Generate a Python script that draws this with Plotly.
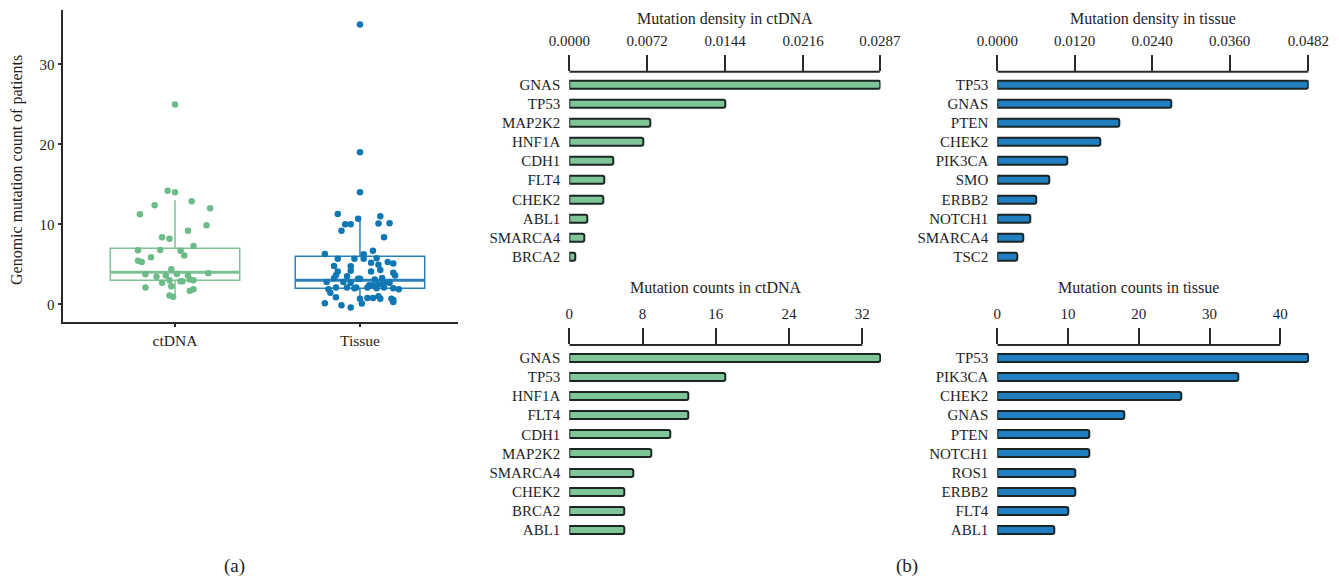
import plotly.graph_objects as go

W, H = 1339, 579

# ---- (a) per-patient mutation counts ----
box_groups = ["ctDNA", "Tissue"]
ctdna_counts = [14.2, 14.0, 12.4, 12.9, 11.25, 12.0, 9.9, 9.2, 8.4, 8.2, 7.3, 6.75, 6.8,
                6.7, 6.1, 5.9, 5.45, 5.3, 4.4, 3.9, 3.75, 3.45, 3.6, 3.6, 2.7, 3.0, 2.9,
                2.9, 3.1, 3.0, 2.1, 2.25, 1.7, 1.9, 1.1, 0.95, 25.0, 3.8]
ctdna_jitter = [-0.04, 0.0, -0.11, 0.09, -0.19, 0.19, 0.17, 0.07, -0.07, -0.03, 0.10, -0.20,
                -0.08, 0.03, 0.05, -0.13, -0.20, -0.18, -0.02, 0.18, -0.16, -0.10, -0.05,
                0.07, -0.07, -0.03, 0.03, 0.04, 0.08, 0.10, -0.16, -0.02, 0.08, 0.10,
                -0.03, -0.01, 0.0, 0.01]
tissue_counts = [11.3, 10.0, 10.0, 9.2, 10.7, 11.0, 10.1, 10.15, 8.4, 6.3, 5.7, 5.7, 6.25,
                 5.7, 6.7, 5.75, 5.3, 5.1, 4.8, 4.75, 4.2, 5.2, 4.95, 4.3, 4.1, 4.1, 3.65,
                 3.95, 3.6, 3.25, 3.5, 3.2, 3.2, 3.1, 3.3, 2.8, 2.8, 2.7, 2.4, 2.4, 2.5,
                 2.6, 2.7, 1.9, 2.1, 2.1, 2.0, 2.1, 2.1, 2.0, 2.1, 2.0, 1.9, 1.45, 0.9,
                 0.7, 0.8, 0.8, 0.7, 1.0, 0.7, 0.3, 0.15, -0.1, -0.4, 0.1, 0.55, 35.0,
                 19.0, 14.0]
tissue_jitter = [-0.12, -0.08, -0.05, -0.10, -0.01, 0.11, 0.10, 0.16, 0.13, -0.19, -0.12,
                 -0.03, 0.02, 0.02, 0.07, 0.09, 0.15, 0.18, -0.14, -0.05, -0.05, 0.06,
                 0.10, 0.11, 0.06, -0.12, -0.13, 0.18, 0.19, -0.14, -0.07, -0.01, 0.0,
                 0.08, 0.12, -0.18, -0.09, -0.05, 0.05, 0.07, 0.10, 0.13, 0.16, -0.17,
                 -0.13, -0.07, -0.03, -0.02, 0.04, 0.09, 0.13, 0.18, 0.21, -0.16, -0.13,
                 0.0, 0.04, 0.07, 0.11, 0.10, 0.17, 0.18, -0.19, -0.10, -0.05, 0.01,
                 0.18, 0.0, 0.0, 0.0]
# box statistics: lower whisker, Q1, median, Q3, upper whisker
box_lower = [1, 0]
box_q1 = [3, 2]
box_median = [4, 3]
box_q3 = [7, 6]
box_upper = [13, 11]
box_ticks = [0, 10, 20, 30]

# ---- (b) top mutated genes ----
dens_ct_genes = ["GNAS", "TP53", "MAP2K2", "HNF1A", "CDH1", "FLT4", "CHEK2", "ABL1", "SMARCA4", "BRCA2"]
dens_ct_vals = [0.0287, 0.0144, 0.0075, 0.0068, 0.0041, 0.0032, 0.0031, 0.0017, 0.0014, 0.0006]
dens_ct_ticks = [0.0, 0.0072, 0.0144, 0.0216, 0.0287]
dens_ct_ticktext = ["0.0000", "0.0072", "0.0144", "0.0216", "0.0287"]

dens_ti_genes = ["TP53", "GNAS", "PTEN", "CHEK2", "PIK3CA", "SMO", "ERBB2", "NOTCH1", "SMARCA4", "TSC2"]
dens_ti_vals = [0.0482, 0.0270, 0.0189, 0.0159, 0.0109, 0.0080, 0.0060, 0.0051, 0.0040, 0.0031]
dens_ti_ticks = [0.0, 0.012, 0.024, 0.036, 0.0482]
dens_ti_ticktext = ["0.0000", "0.0120", "0.0240", "0.0360", "0.0482"]

cnt_ct_genes = ["GNAS", "TP53", "HNF1A", "FLT4", "CDH1", "MAP2K2", "SMARCA4", "CHEK2", "BRCA2", "ABL1"]
cnt_ct_vals = [34, 17, 13, 13, 11, 9, 7, 6, 6, 6]
cnt_ct_ticks = [0, 8, 16, 24, 32]

cnt_ti_genes = ["TP53", "PIK3CA", "CHEK2", "GNAS", "PTEN", "NOTCH1", "ROS1", "ERBB2", "FLT4", "ABL1"]
cnt_ti_vals = [44, 34, 26, 18, 13, 13, 11, 11, 10, 8]
cnt_ti_ticks = [0, 10, 20, 30, 40]

GREEN_PT = "#6cbb89"
GREEN_BOX = "#7cc293"
BLUE_PT = "#0f77b4"
BLUE_BOX = "#2b80b9"
GREEN_BAR = "#7fc598"
BLUE_BAR = "#1f7fc0"
EDGE = "#1b2624"
AXIS = "#2a2a2a"
TEXT = "#1e1e1e"
FONT = "Liberation Serif"


def px_x(p):
    return p / W


def px_y(p):
    return 1 - p / H


fig = go.Figure()

# ---- panel (a): boxes, medians and jittered patients ----
box_colors = [GREEN_BOX, BLUE_BOX]
for i, name in enumerate(box_groups):
    fig.add_trace(go.Box(
        x=[i], q1=[box_q1[i]], median=[box_median[i]], q3=[box_q3[i]],
        lowerfence=[box_lower[i]], upperfence=[box_upper[i]],
        width=0.7, whiskerwidth=0, fillcolor="rgba(0,0,0,0)",
        line=dict(color=box_colors[i], width=1.5),
        boxpoints=False, showlegend=False, xaxis="x", yaxis="y", hoverinfo="skip"))
    fig.add_trace(go.Scatter(
        x=[i - 0.35, i + 0.35], y=[box_median[i]] * 2, mode="lines",
        line=dict(color=box_colors[i], width=3), showlegend=False, hoverinfo="skip"))

fig.add_trace(go.Scatter(
    x=[0 + j for j in ctdna_jitter], y=ctdna_counts, mode="markers",
    marker=dict(color=GREEN_PT, size=6.5), showlegend=False))
fig.add_trace(go.Scatter(
    x=[1 + j for j in tissue_jitter], y=tissue_counts, mode="markers",
    marker=dict(color=BLUE_PT, size=6.5), showlegend=False))

# ---- panel (b): four horizontal bar charts ----
panels = [
    dict(genes=dens_ct_genes, vals=dens_ct_vals, ticks=dens_ct_ticks, text=dens_ct_ticktext,
         color=GREEN_BAR, title="Mutation density in ctDNA", xr=(569.3, 880.5), xmax=0.02876,
         yr=(71.7, 266.3), title_y=18.5),
    dict(genes=dens_ti_genes, vals=dens_ti_vals, ticks=dens_ti_ticks, text=dens_ti_ticktext,
         color=BLUE_BAR, title="Mutation density in tissue", xr=(997.3, 1308.7), xmax=0.04826,
         yr=(71.7, 266.3), title_y=18.5),
    dict(genes=cnt_ct_genes, vals=cnt_ct_vals, ticks=cnt_ct_ticks,
         text=[str(t) for t in cnt_ct_ticks],
         color=GREEN_BAR, title="Mutation counts in ctDNA", xr=(569.3, 881.0), xmax=34.05,
         yr=(345.0, 539.6), title_y=287.3),
    dict(genes=cnt_ti_genes, vals=cnt_ti_vals, ticks=cnt_ti_ticks,
         text=[str(t) for t in cnt_ti_ticks],
         color=BLUE_BAR, title="Mutation counts in tissue", xr=(997.3, 1309.0), xmax=44.05,
         yr=(345.0, 539.6), title_y=287.3),
]

layout_axes = {}
shapes = []
annotations = []
for k, p in enumerate(panels, start=2):
    xa, ya = f"x{k}", f"y{k}"
    fig.add_trace(go.Bar(
        x=p["vals"], y=p["genes"], orientation="h", width=0.42,
        marker=dict(color=p["color"], line=dict(color=EDGE, width=2), cornerradius=2),
        xaxis=xa, yaxis=ya, showlegend=False))
    layout_axes[f"xaxis{k}"] = dict(
        domain=[px_x(p["xr"][0]), px_x(p["xr"][1])], range=[0, p["xmax"]],
        anchor=ya, side="top", tickvals=p["ticks"], ticktext=p["text"],
        ticks="outside", ticklen=16, tickwidth=2, tickcolor=AXIS,
        showline=False, showgrid=False, zeroline=False, automargin=False,
        tickfont=dict(family=FONT, size=15, color=TEXT), ticklabelstandoff=3)
    layout_axes[f"yaxis{k}"] = dict(
        domain=[px_y(p["yr"][1]), px_y(p["yr"][0])], anchor=xa,
        type="category", categoryarray=p["genes"], range=[9.5, -0.66],
        showline=False, showgrid=False, zeroline=False, ticks="", automargin=False,
        tickfont=dict(family=FONT, size=15, color=TEXT), ticklabelstandoff=8)
    # axis rule spanning the first to the last tick
    shapes.append(dict(type="line", xref=xa, yref=f"{ya} domain",
                       x0=p["ticks"][0], x1=p["ticks"][-1], y0=1, y1=1,
                       line=dict(color=AXIS, width=2)))
    annotations.append(dict(
        text=p["title"], xref=xa, yref="paper",
        x=(p["ticks"][0] + p["ticks"][-1]) / 2, y=px_y(p["title_y"]),
        showarrow=False, xanchor="center", yanchor="middle",
        font=dict(family=FONT, size=16, color=TEXT)))

annotations += [
    dict(text="Genomic mutation count of patients", x=px_x(17), y=px_y(170),
         xref="paper", yref="paper", textangle=-90, showarrow=False,
         xanchor="center", yanchor="middle",
         font=dict(family=FONT, size=16, color=TEXT)),
    dict(text="(a)", x=px_x(234), y=px_y(566), xref="paper", yref="paper",
         xanchor="center", yanchor="middle",
         showarrow=False, font=dict(family=FONT, size=19, color=TEXT)),
    dict(text="(b)", x=px_x(907), y=px_y(566), xref="paper", yref="paper",
         xanchor="center", yanchor="middle",
         showarrow=False, font=dict(family=FONT, size=19, color=TEXT)),
]

fig.update_layout(
    width=W, height=H, margin=dict(l=0, r=0, t=0, b=0),
    paper_bgcolor="white", plot_bgcolor="white", showlegend=False,
    bargap=0,
    xaxis=dict(domain=[px_x(63.3), px_x(458)], range=[-0.604, 1.53],
               tickvals=[0, 1], ticktext=box_groups, automargin=False,
               showline=True, linecolor=AXIS, linewidth=1.5,
               ticks="outside", ticklen=4, tickwidth=1.5, tickcolor=AXIS,
               showgrid=False, zeroline=False,
               tickfont=dict(family=FONT, size=15.5, color=TEXT)),
    yaxis=dict(domain=[px_y(321.7), px_y(10)], range=[-2.17, 36.8],
               tickvals=box_ticks, automargin=False,
               showline=True, linecolor=AXIS, linewidth=1.5,
               ticks="outside", ticklen=4, tickwidth=1.5, tickcolor=AXIS,
               showgrid=False, zeroline=False,
               tickfont=dict(family=FONT, size=15, color=TEXT)),
    shapes=shapes, annotations=annotations,
    **layout_axes,
)

fig.write_html("out.html")
